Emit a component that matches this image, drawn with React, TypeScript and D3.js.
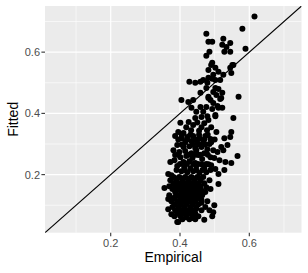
import React, { useEffect, useRef } from 'react';
import * as d3 from 'd3';

// limits shared by both axes (ggplot adds 5% on each side)
const axisLimits = [0.044, 0.717];
const majorBreaks = [0.2, 0.4, 0.6];
const minorBreaks = [0.1, 0.3, 0.5, 0.7];
const xTitle = "Empirical";
const yTitle = "Fitted";

// [empirical, fitted]
const upperPoints: [number, number][] = [
    [0.615, 0.716], [0.580, 0.676], [0.476, 0.660], [0.482, 0.634], [0.493, 0.634], [0.525, 0.644],
    [0.522, 0.624], [0.534, 0.617], [0.545, 0.630], [0.528, 0.601], [0.545, 0.601], [0.485, 0.601],
    [0.476, 0.588], [0.589, 0.611], [0.493, 0.565], [0.551, 0.558], [0.490, 0.558], [0.502, 0.549],
    [0.482, 0.542], [0.511, 0.536], [0.554, 0.558], [0.545, 0.549], [0.548, 0.532], [0.525, 0.526],
    [0.496, 0.526], [0.482, 0.516], [0.467, 0.509], [0.459, 0.503], [0.444, 0.500], [0.427, 0.503],
    [0.502, 0.509], [0.516, 0.509], [0.476, 0.483], [0.496, 0.470], [0.459, 0.467], [0.482, 0.454],
    [0.505, 0.460], [0.519, 0.450], [0.404, 0.444], [0.424, 0.437], [0.438, 0.444], [0.488, 0.444],
    [0.569, 0.454], [0.496, 0.434], [0.459, 0.421], [0.476, 0.421], [0.433, 0.418], [0.447, 0.405],
    [0.467, 0.405], [0.511, 0.418], [0.502, 0.395], [0.554, 0.385], [0.462, 0.388], [0.482, 0.378],
    [0.444, 0.385], [0.401, 0.369], [0.418, 0.355], [0.438, 0.362], [0.462, 0.355], [0.490, 0.355],
    [0.505, 0.339], [0.548, 0.339], [0.395, 0.339], [0.410, 0.336], [0.493, 0.513], [0.479, 0.500],
    [0.502, 0.483], [0.511, 0.480], [0.522, 0.467], [0.482, 0.450], [0.516, 0.447], [0.508, 0.424],
    [0.493, 0.414], [0.522, 0.418], [0.479, 0.391], [0.502, 0.391],
    [0.425, 0.372], [0.450, 0.370], [0.470, 0.368], [0.432, 0.345], [0.455, 0.343], [0.478, 0.345]
];

const middlePoints: [number, number][] = [
    [0.545, 0.323], [0.519, 0.290], [0.525, 0.280], [0.496, 0.280], [0.447, 0.280], [0.453, 0.264],
    [0.488, 0.257], [0.566, 0.261], [0.531, 0.241], [0.548, 0.238], [0.482, 0.234], [0.502, 0.218],
    [0.528, 0.215], [0.511, 0.202], [0.366, 0.202], [0.375, 0.198],
    [0.386, 0.326], [0.404, 0.319], [0.421, 0.323], [0.438, 0.326], [0.456, 0.319], [0.473, 0.326],
    [0.488, 0.316], [0.415, 0.306], [0.433, 0.310], [0.450, 0.303], [0.467, 0.306], [0.485, 0.300],
    [0.392, 0.297], [0.410, 0.290], [0.427, 0.293], [0.444, 0.287], [0.462, 0.290], [0.479, 0.283],
    [0.381, 0.280], [0.398, 0.274], [0.415, 0.277], [0.433, 0.270], [0.470, 0.270], [0.401, 0.257],
    [0.418, 0.261], [0.436, 0.254], [0.464, 0.251], [0.384, 0.247], [0.410, 0.241], [0.427, 0.244],
    [0.444, 0.238], [0.462, 0.234], [0.392, 0.228], [0.412, 0.225], [0.430, 0.221], [0.447, 0.228],
    [0.470, 0.221], [0.404, 0.211], [0.421, 0.208], [0.438, 0.211], [0.456, 0.205], [0.476, 0.208],
    [0.490, 0.231], [0.499, 0.254], [0.514, 0.247], [0.508, 0.274], [0.537, 0.297], [0.528, 0.319],
    [0.386, 0.264], [0.372, 0.241], [0.490, 0.306],
    [0.405, 0.330], [0.430, 0.330], [0.455, 0.330], [0.480, 0.330],
    [0.395, 0.315], [0.420, 0.315], [0.445, 0.315], [0.470, 0.315], [0.500, 0.315],
    [0.405, 0.298], [0.437, 0.298], [0.455, 0.298], [0.472, 0.298],
    [0.395, 0.265], [0.425, 0.265], [0.445, 0.265], [0.458, 0.265], [0.480, 0.265],
    [0.400, 0.235], [0.420, 0.235], [0.438, 0.235], [0.452, 0.235], [0.476, 0.235],
    [0.390, 0.215], [0.413, 0.215], [0.447, 0.215], [0.465, 0.215], [0.488, 0.215]
];

const lowerPoints: [number, number][] = [
    [0.381, 0.192], [0.398, 0.192], [0.415, 0.192], [0.433, 0.192], [0.450, 0.192], [0.467, 0.192],
    [0.372, 0.182], [0.389, 0.182], [0.407, 0.182], [0.424, 0.182], [0.441, 0.182], [0.459, 0.182], [0.485, 0.182],
    [0.381, 0.172], [0.398, 0.172], [0.415, 0.172], [0.433, 0.172], [0.450, 0.172], [0.470, 0.172],
    [0.369, 0.162], [0.389, 0.162], [0.407, 0.162], [0.424, 0.162], [0.441, 0.162], [0.459, 0.162],
    [0.378, 0.153], [0.398, 0.153], [0.415, 0.153], [0.433, 0.153], [0.450, 0.153], [0.488, 0.153],
    [0.386, 0.143], [0.404, 0.143], [0.421, 0.143], [0.438, 0.143], [0.456, 0.143], [0.473, 0.143],
    [0.369, 0.133], [0.395, 0.133], [0.412, 0.133], [0.430, 0.133], [0.447, 0.133], [0.464, 0.133],
    [0.381, 0.123], [0.401, 0.123], [0.418, 0.123], [0.436, 0.123], [0.453, 0.123],
    [0.375, 0.113], [0.392, 0.113], [0.410, 0.113], [0.427, 0.113], [0.444, 0.113], [0.479, 0.113],
    [0.384, 0.103], [0.401, 0.103], [0.418, 0.103], [0.436, 0.103], [0.453, 0.103],
    [0.378, 0.094], [0.395, 0.094], [0.412, 0.094], [0.430, 0.094], [0.447, 0.094], [0.473, 0.094],
    [0.386, 0.084], [0.404, 0.084], [0.421, 0.084], [0.438, 0.084], [0.485, 0.084],
    [0.392, 0.074], [0.410, 0.074], [0.427, 0.074], [0.444, 0.074],
    [0.384, 0.064], [0.401, 0.064], [0.418, 0.064], [0.453, 0.064],
    [0.407, 0.054], [0.427, 0.054], [0.444, 0.054],
    [0.355, 0.156], [0.366, 0.120], [0.366, 0.087], [0.375, 0.071], [0.395, 0.045], [0.418, 0.061],
    [0.438, 0.067], [0.470, 0.053], [0.462, 0.084], [0.496, 0.077], [0.493, 0.064], [0.499, 0.100],
    [0.462, 0.117], [0.476, 0.159], [0.511, 0.169], [0.392, 0.045], [0.436, 0.058],
    [0.390, 0.187], [0.407, 0.187], [0.424, 0.187], [0.441, 0.187], [0.458, 0.187],
    [0.385, 0.167], [0.402, 0.167], [0.420, 0.167], [0.437, 0.167], [0.454, 0.167],
    [0.390, 0.148], [0.410, 0.148], [0.427, 0.148], [0.444, 0.148], [0.462, 0.148],
    [0.386, 0.128], [0.405, 0.128], [0.422, 0.128], [0.440, 0.128], [0.458, 0.128],
    [0.400, 0.108], [0.418, 0.108], [0.436, 0.108], [0.462, 0.108],
    [0.395, 0.089], [0.412, 0.089], [0.430, 0.089], [0.447, 0.089],
    [0.400, 0.070], [0.420, 0.070], [0.436, 0.070]
];

const width = 308;
const height = 273;
const margin = { top: 6, right: 6.5, bottom: 40.3, left: 45 };

const App = () => {
    const ref = useRef<SVGSVGElement>(null);

    useEffect(() => {
        const svg = d3.select(ref.current);
        svg.selectAll("*").remove();

        const pad = (axisLimits[1] - axisLimits[0]) * 0.05;
        const domain = [axisLimits[0] - pad, axisLimits[1] + pad];

        const x = d3.scaleLinear().domain(domain).range([margin.left, width - margin.right]);
        const y = d3.scaleLinear().domain(domain).range([height - margin.bottom, margin.top]);

        const [x0, x1] = x.range();
        const [y0, y1] = [y.range()[1], y.range()[0]];

        svg.append("defs").append("clipPath").attr("id", "panel-clip")
            .append("rect")
            .attr("x", x0).attr("y", y0)
            .attr("width", x1 - x0).attr("height", y1 - y0);

        svg.append("rect")
            .attr("x", x0).attr("y", y0)
            .attr("width", x1 - x0).attr("height", y1 - y0)
            .attr("fill", "#EBEBEB");

        const grid = svg.append("g").attr("stroke", "white");
        grid.selectAll(".vminor").data(minorBreaks).join("line")
            .attr("x1", d => x(d)).attr("x2", d => x(d))
            .attr("y1", y0).attr("y2", y1).attr("stroke-width", 0.6);
        grid.selectAll(".hminor").data(minorBreaks).join("line")
            .attr("y1", d => y(d)).attr("y2", d => y(d))
            .attr("x1", x0).attr("x2", x1).attr("stroke-width", 0.6);
        grid.selectAll(".vmajor").data(majorBreaks).join("line")
            .attr("x1", d => x(d)).attr("x2", d => x(d))
            .attr("y1", y0).attr("y2", y1).attr("stroke-width", 1.2);
        grid.selectAll(".hmajor").data(majorBreaks).join("line")
            .attr("y1", d => y(d)).attr("y2", d => y(d))
            .attr("x1", x0).attr("x2", x1).attr("stroke-width", 1.2);

        const allPoints = [...lowerPoints, ...middlePoints, ...upperPoints];
        svg.append("g")
            .attr("clip-path", "url(#panel-clip)")
            .selectAll("circle")
            .data(allPoints)
            .join("circle")
                .attr("cx", d => x(d[0]))
                .attr("cy", d => y(d[1]))
                .attr("r", 3)
                .attr("fill", "black");

        // identity line
        svg.append("line")
            .attr("clip-path", "url(#panel-clip)")
            .attr("x1", x(domain[0])).attr("y1", y(domain[0]))
            .attr("x2", x(domain[1])).attr("y2", y(domain[1]))
            .attr("stroke", "black")
            .attr("stroke-width", 1.1);

        const font = "'Liberation Sans', Arial, sans-serif";

        const xAxis = svg.append("g");
        xAxis.selectAll("line").data(majorBreaks).join("line")
            .attr("x1", d => x(d)).attr("x2", d => x(d))
            .attr("y1", y1).attr("y2", y1 + 3.6)
            .attr("stroke", "#333333").attr("stroke-width", 1.1);
        xAxis.selectAll("text").data(majorBreaks).join("text")
            .attr("x", d => x(d)).attr("y", y1 + 14.3)
            .attr("text-anchor", "middle")
            .attr("font-family", font).attr("font-size", 11)
            .attr("fill", "#4D4D4D")
            .text(d => d3.format(".1f")(d));

        const yAxis = svg.append("g");
        yAxis.selectAll("line").data(majorBreaks).join("line")
            .attr("y1", d => y(d)).attr("y2", d => y(d))
            .attr("x1", x0 - 3.6).attr("x2", x0)
            .attr("stroke", "#333333").attr("stroke-width", 1.1);
        yAxis.selectAll("text").data(majorBreaks).join("text")
            .attr("x", x0 - 5).attr("y", d => y(d) + 4)
            .attr("text-anchor", "end")
            .attr("font-family", font).attr("font-size", 11)
            .attr("fill", "#4D4D4D")
            .text(d => d3.format(".1f")(d));

        svg.append("text")
            .attr("x", (x0 + x1) / 2).attr("y", 262)
            .attr("text-anchor", "middle")
            .attr("font-family", font).attr("font-size", 14)
            .attr("fill", "black")
            .text(xTitle);

        svg.append("text")
            .attr("transform", `translate(18,${(y0 + y1) / 2}) rotate(-90)`)
            .attr("text-anchor", "middle")
            .attr("font-family", font).attr("font-size", 14)
            .attr("fill", "black")
            .text(yTitle);
    }, []);

    return (
        <svg ref={ref} width={width} height={height}
            style={{ position: "absolute", left: 0, top: 0, background: "white" }} />
    );
};

export default App;
